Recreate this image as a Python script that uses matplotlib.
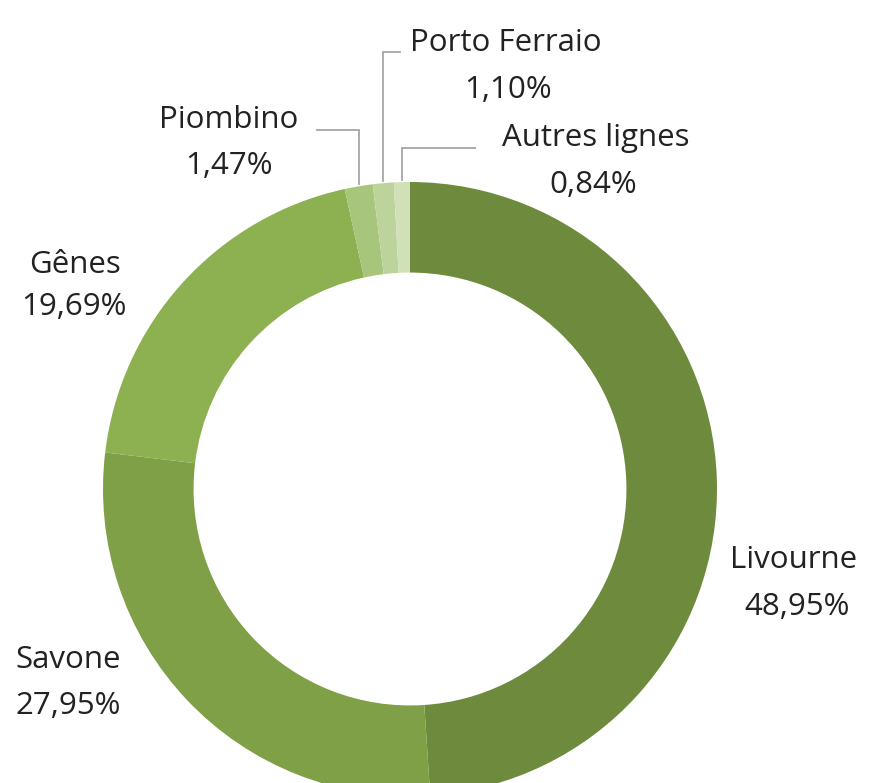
import numpy as np
import matplotlib
matplotlib.use("Agg")
import matplotlib.pyplot as plt

categories = ["Livourne", "Savone", "Gênes", "Piombino", "Porto Ferraio", "Autres lignes"]
values = [48.95, 27.95, 19.69, 1.47, 1.10, 0.84]
pct_labels = ["48,95%", "27,95%", "19,69%", "1,47%", "1,10%", "0,84%"]
colors = ["#6E8B3D", "#7FA046", "#8DB050", "#A8C57C", "#BCD49B", "#D0E1B7"]

W, H = 871, 783
fig = plt.figure(figsize=(W / 100, H / 100), dpi=100)
ax = fig.add_axes([0, 0, 1, 1])

cx, cy = 410, H - 489
R = 307
ring = 0.295

wedges, _ = ax.pie(values, colors=colors, startangle=90, counterclock=False,
                   center=(cx, cy), radius=R, frame=True,
                   wedgeprops=dict(width=R * ring, edgecolor="none"))
ax.set_xlim(0, W)
ax.set_ylim(0, H)
ax.set_aspect("equal")
ax.axis("off")

font = dict(family=["Open Sans", "DejaVu Sans"], fontsize=22.5, color="#222222")

# label positions (pixel coords, top origin): (name_xy, pct_xy)
label_pos = {
    "Livourne": ((794, 560), (797, 607)),
    "Savone": ((68, 660), (68, 706)),
    "Gênes": ((75, 265), (74, 307)),
    "Piombino": ((229, 120), (229, 166)),
    "Porto Ferraio": ((506, 43), (508, 90)),
    "Autres lignes": ((596, 138), (593, 185)),
}
for cat, pct in zip(categories, pct_labels):
    (nx, ny), (px, py) = label_pos[cat]
    ax.text(nx, H - ny, cat, ha="center", va="center", **font)
    ax.text(px, H - py, pct, ha="center", va="center", **font)

# leader lines for the small slices
leader = {
    "Piombino": (317, 130),
    "Porto Ferraio": (400, 52),
    "Autres lignes": (475, 148),
}
for w, cat in zip(wedges, categories):
    if cat not in leader:
        continue
    mid = np.deg2rad((w.theta1 + w.theta2) / 2)
    ex = cx + R * np.cos(mid)
    ey = cy + R * np.sin(mid)
    lx, ly = leader[cat]
    ly = H - ly
    ax.plot([lx, ex, ex], [ly, ly, ey + 2], color="#A6A6A6", lw=1.3,
            solid_joinstyle="miter")

fig.savefig("out.png", dpi=100)
